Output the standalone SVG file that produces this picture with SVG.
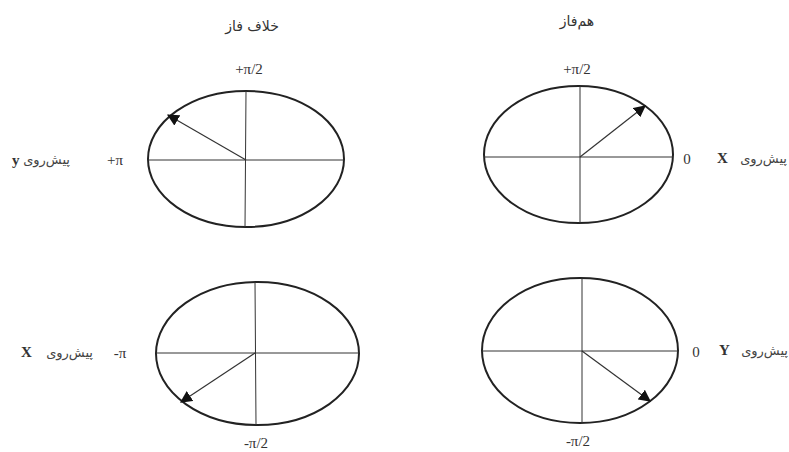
<svg xmlns="http://www.w3.org/2000/svg" width="789" height="452" viewBox="0 0 789 452">
<style>
.ell{fill:none;stroke:#222;stroke-width:2}
.ax{stroke:#333;stroke-width:1}
.vec{stroke:#333;stroke-width:1.2;marker-end:url(#ah)}
.lat{font-family:"Liberation Serif",serif;font-size:15px;fill:#333}
.fa{font-family:"DejaVu Sans","Noto Sans",sans-serif;font-size:13px;fill:#444}
.ti{font-family:"DejaVu Sans","Noto Sans",sans-serif;font-size:14px;fill:#333}
</style>
<defs>
<marker id="ah" viewBox="0 0 10 10" refX="9" refY="5" markerWidth="12" markerHeight="12" markerUnits="userSpaceOnUse" orient="auto">
<path d="M0,0 L10,5 L0,10 z" fill="#111"/>
</marker>
</defs>
<rect width="789" height="452" fill="#fff"/>
<g id="tl">
<ellipse class="ell" cx="246" cy="159" rx="98" ry="68"/>
<line class="ax" x1="148" y1="160" x2="344" y2="160"/>
<line class="ax" x1="246" y1="91" x2="245" y2="227"/>
<text class="ti" x="252" y="31" text-anchor="middle">خلاف فاز</text>
<text class="lat" x="249" y="74" text-anchor="middle">+π/2</text>
<text class="lat" x="115" y="165" text-anchor="middle">+π</text>
<text class="lat" x="12" y="165" font-weight="bold">y</text>
<text class="fa" x="70" y="164" text-anchor="end">پیش‌روی</text>
</g>
<g id="tr">
<ellipse class="ell" cx="578.5" cy="154.5" rx="94.5" ry="68.5"/>
<line class="ax" x1="484" y1="157" x2="673" y2="157"/>
<line class="ax" x1="580" y1="86" x2="580" y2="223"/>
<text class="ti" x="577" y="26" text-anchor="middle">هم‌فاز</text>
<text class="lat" x="577" y="74" text-anchor="middle">+π/2</text>
<text class="lat" x="687" y="164" text-anchor="middle">0</text>
<text class="lat" x="717" y="163" font-weight="bold">X</text>
<text class="fa" x="787" y="163" text-anchor="end">پیش‌روی</text>
</g>
<g id="bl">
<ellipse class="ell" cx="257.5" cy="353.5" rx="101.5" ry="71.5"/>
<line class="ax" x1="156" y1="353" x2="359" y2="353"/>
<line class="ax" x1="255" y1="282" x2="256" y2="425"/>
<text class="lat" x="120" y="358" text-anchor="middle">-π</text>
<text class="lat" x="21" y="357" font-weight="bold">X</text>
<text class="fa" x="93" y="357" text-anchor="end">پیش‌روی</text>
<text class="lat" x="256" y="448" text-anchor="middle">-π/2</text>
</g>
<g id="br">
<ellipse class="ell" cx="580" cy="350.5" rx="98" ry="72.5"/>
<line class="ax" x1="482" y1="351" x2="678" y2="351"/>
<line class="ax" x1="582" y1="278" x2="582" y2="423"/>
<text class="lat" x="696" y="357" text-anchor="middle">0</text>
<text class="lat" x="719" y="355" font-weight="bold">Y</text>
<text class="fa" x="788" y="355" text-anchor="end">پیش‌روی</text>
<text class="lat" x="578" y="446" text-anchor="middle">-π/2</text>
</g>
<g id="connectors">
<line class="vec" x1="246" y1="160" x2="168" y2="115"/>
<line class="vec" x1="580" y1="157" x2="645" y2="106"/>
<line class="vec" x1="255" y1="353" x2="181" y2="402"/>
<line class="vec" x1="582" y1="351" x2="650" y2="401"/>
</g>
</svg>
